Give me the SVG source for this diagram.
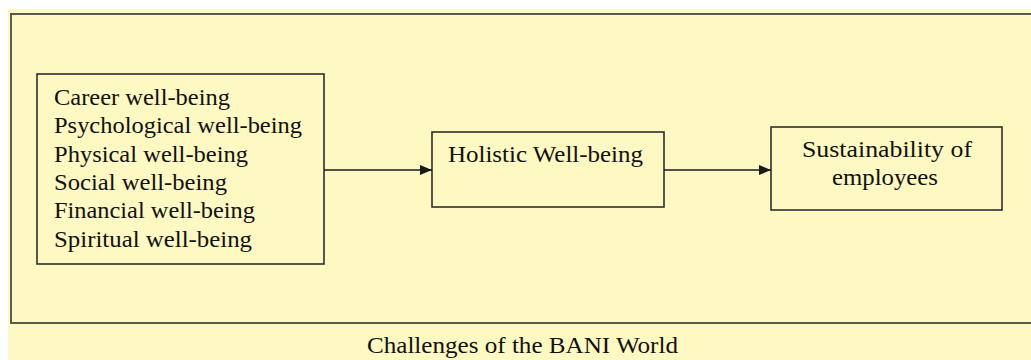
<svg xmlns="http://www.w3.org/2000/svg" width="1031" height="360" viewBox="0 0 1031 360">
<style>
.box{fill:none;stroke:#2f2f2f;stroke-width:1.6}
.t{font-family:"Liberation Serif","Times New Roman",serif;font-size:23px;fill:#111111}
.ln{stroke:#1a1a1a;stroke-width:1.6;fill:none}
</style>
<defs>
<marker id="ah" markerWidth="12" markerHeight="10" refX="12" refY="5" orient="auto" markerUnits="userSpaceOnUse">
<path d="M0,0 L12,5 L0,10 Z" fill="#1a1a1a"/>
</marker>
</defs>
<rect x="0" y="0" width="1031" height="360" fill="#ffffff"/>
<rect x="8" y="9" width="1030" height="360" fill="#fef8c2"/>
<g id="frame">
<rect x="11" y="14" width="1030" height="309" fill="none" stroke="#5a5a50" stroke-width="2"/>
<text class="t" x="367" y="353" textLength="311" lengthAdjust="spacingAndGlyphs">Challenges of the BANI World</text>
</g>
<g id="dimensions">
<rect class="box" x="37" y="74" width="287" height="190"/>
<text class="t" x="54" y="105" textLength="176" lengthAdjust="spacingAndGlyphs">Career well-being</text>
<text class="t" x="54" y="133" textLength="248" lengthAdjust="spacingAndGlyphs">Psychological well-being</text>
<text class="t" x="54" y="162" textLength="194" lengthAdjust="spacingAndGlyphs">Physical well-being</text>
<text class="t" x="54" y="190" textLength="173" lengthAdjust="spacingAndGlyphs">Social well-being</text>
<text class="t" x="54" y="218" textLength="201" lengthAdjust="spacingAndGlyphs">Financial well-being</text>
<text class="t" x="54" y="247" textLength="198" lengthAdjust="spacingAndGlyphs">Spiritual well-being</text>
</g>
<g id="holistic">
<rect class="box" x="432" y="132" width="232" height="75"/>
<text class="t" x="448" y="162" textLength="195" lengthAdjust="spacingAndGlyphs">Holistic Well-being</text>
</g>
<g id="sustainability">
<rect class="box" x="771" y="127" width="231" height="83"/>
<text class="t" x="802" y="157" textLength="170" lengthAdjust="spacingAndGlyphs">Sustainability of</text>
<text class="t" x="832" y="185" textLength="106" lengthAdjust="spacingAndGlyphs">employees</text>
</g>
<g id="connectors">
<line class="ln" x1="324" y1="170" x2="432" y2="170" marker-end="url(#ah)"/>
<line class="ln" x1="664" y1="170" x2="771" y2="170" marker-end="url(#ah)"/>
</g>
</svg>
